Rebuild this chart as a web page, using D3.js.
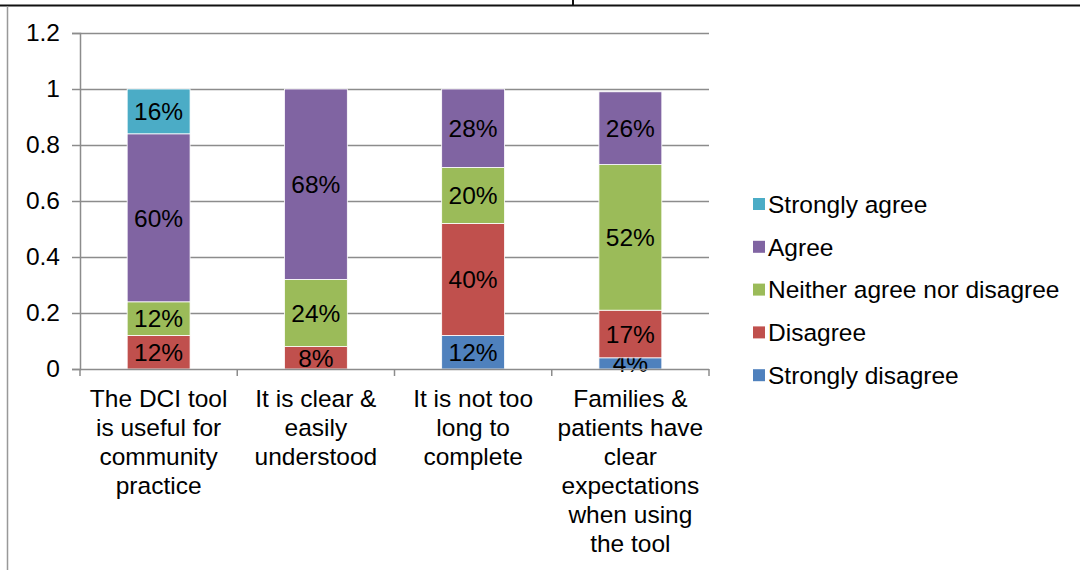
<!DOCTYPE html>
<html>
<head>
<meta charset="utf-8">
<script src="https://cdn.jsdelivr.net/npm/d3@7"></script>
<style>
  body { margin: 0; background: #fff; }
  svg { font-family: "Liberation Sans", Arial, sans-serif; }
</style>
</head>
<body>
<div id="chart"></div>
<script>

// data
var categories = [
	["The DCI tool", "is useful for", "community", "practice"],
	["It is clear &", "easily", "understood"],
	["It is not too", "long to", "complete"],
	["Families &", "patients have", "clear", "expectations", "when using", "the tool"]
];
var seriesNames = ["Strongly disagree", "Disagree", "Neither agree nor disagree", "Agree", "Strongly agree"];
var stronglyDisagree = [0, 0, 0.12, 0.04];
var disagree = [0.12, 0.08, 0.40, 0.17];
var neither = [0.12, 0.24, 0.20, 0.52];
var agree = [0.60, 0.68, 0.28, 0.26];
var stronglyAgree = [0.16, 0, 0, 0];
var yTicks = [0, 0.2, 0.4, 0.6, 0.8, 1, 1.2];

var colors = {
	"Strongly disagree": "#4f81bd",
	"Disagree": "#c0504d",
	"Neither agree nor disagree": "#9bbb59",
	"Agree": "#8064a2",
	"Strongly agree": "#4bacc6"
};

var seriesValues = [stronglyDisagree, disagree, neither, agree, stronglyAgree];

var table = categories.map(function(c, i) {
	var row = { idx: i };
	seriesNames.forEach(function(s, j) { row[s] = seriesValues[j][i]; });
	return row;
});

var width = 1080, height = 570;
var plotLeft = 80, plotRight = 709, plotTop = 33, plotBottom = 369;
var fontSize = 24.5;

var svg = d3.select("#chart").append("svg")
	.attr("width", width)
	.attr("height", height);

// page frame artifacts
svg.append("line").attr("x1", 0).attr("x2", width).attr("y1", 5.5).attr("y2", 5.5)
	.attr("stroke", "#111").attr("stroke-width", 2);
svg.append("line").attr("x1", 573).attr("x2", 573).attr("y1", 0).attr("y2", 5)
	.attr("stroke", "#111").attr("stroke-width", 2);
svg.append("line").attr("x1", 7.5).attr("x2", 7.5).attr("y1", 6).attr("y2", height)
	.attr("stroke", "#999").attr("stroke-width", 1.5);

var x = d3.scaleBand()
	.domain(d3.range(categories.length))
	.range([plotLeft, plotRight])
	.paddingInner(0.6)
	.paddingOuter(0.3);

var y = d3.scaleLinear()
	.domain([0, 1.2])
	.range([plotBottom, plotTop]);

// gridlines
svg.append("g")
	.selectAll("line")
	.data(yTicks.filter(function(d) { return d > 0; }))
	.enter()
	.append("line")
	.attr("x1", plotLeft).attr("x2", plotRight)
	.attr("y1", function(d) { return y(d) + 0.5; })
	.attr("y2", function(d) { return y(d) + 0.5; })
	.attr("stroke", "#8c8c8c")
	.attr("stroke-width", 1.5);

// y axis
var yAxis = svg.append("g")
	.attr("transform", "translate(" + plotLeft + ",0)")
	.call(d3.axisLeft(y).tickValues(yTicks).tickSize(8).tickPadding(12).tickFormat(d3.format("")));
yAxis.select(".domain").attr("stroke", "#8c8c8c").attr("stroke-width", 1.5);
yAxis.selectAll(".tick line").attr("stroke", "#8c8c8c").attr("stroke-width", 1.5);
yAxis.selectAll("text").attr("font-size", fontSize).attr("fill", "#000")
	.attr("font-family", "Liberation Sans, Arial, sans-serif");

// stacked bars
var stack = d3.stack().keys(seriesNames);
var layers = stack(table);

var layer = svg.append("g").selectAll("g")
	.data(layers)
	.enter()
	.append("g")
	.attr("fill", function(d) { return colors[d.key]; });

layer.selectAll("rect")
	.data(function(d) { return d; })
	.enter()
	.append("rect")
	.attr("x", function(d) { return x(d.data.idx); })
	.attr("width", x.bandwidth())
	.attr("y", function(d) { return y(d[1]); })
	.attr("height", function(d) { return y(d[0]) - y(d[1]); })
	.attr("stroke", "#fff")
	.attr("stroke-width", function(d) { return d[1] - d[0] > 0 ? 0.8 : 0; });

layer.selectAll("text")
	.data(function(d) { return d.filter(function(e) { return e[1] - e[0] > 0; }); })
	.enter()
	.append("text")
	.attr("x", function(d) { return x(d.data.idx) + x.bandwidth() / 2; })
	.attr("y", function(d) { return y((d[0] + d[1]) / 2); })
	.attr("dy", "0.36em")
	.attr("text-anchor", "middle")
	.attr("font-size", fontSize)
	.attr("fill", "#000")
	.text(function(d) { return Math.round((d[1] - d[0]) * 100) + "%"; });

// x axis
svg.append("line")
	.attr("x1", plotLeft).attr("x2", plotRight)
	.attr("y1", plotBottom + 0.5).attr("y2", plotBottom + 0.5)
	.attr("stroke", "#8c8c8c").attr("stroke-width", 1.5);

svg.append("g").selectAll("line")
	.data(d3.range(categories.length + 1))
	.enter()
	.append("line")
	.attr("x1", function(d) { return plotLeft + d * (plotRight - plotLeft) / categories.length; })
	.attr("x2", function(d) { return plotLeft + d * (plotRight - plotLeft) / categories.length; })
	.attr("y1", plotBottom).attr("y2", plotBottom + 7)
	.attr("stroke", "#8c8c8c").attr("stroke-width", 1.5);

var catLabels = svg.append("g").selectAll("text")
	.data(categories)
	.enter()
	.append("text")
	.attr("text-anchor", "middle")
	.attr("font-size", fontSize)
	.attr("fill", "#000")
	.attr("transform", function(d, i) {
		return "translate(" + (x(i) + x.bandwidth() / 2) + "," + (plotBottom + 38) + ")";
	});

catLabels.selectAll("tspan")
	.data(function(d) { return d; })
	.enter()
	.append("tspan")
	.attr("x", 0)
	.attr("y", function(d, i) { return i * 29; })
	.text(function(d) { return d; });

// legend, top item first
var legend = svg.append("g")
	.attr("transform", "translate(753,204)")
	.selectAll("g")
	.data(seriesNames.slice().reverse())
	.enter()
	.append("g")
	.attr("transform", function(d, i) { return "translate(0," + (i * 42.8) + ")"; });

legend.append("rect")
	.attr("x", 0).attr("y", -6)
	.attr("width", 12).attr("height", 12)
	.attr("fill", function(d) { return colors[d]; });

legend.append("text")
	.attr("x", 15)
	.attr("dy", "0.36em")
	.attr("font-size", fontSize)
	.attr("fill", "#000")
	.text(function(d) { return d; });

</script>
</body>
</html>
